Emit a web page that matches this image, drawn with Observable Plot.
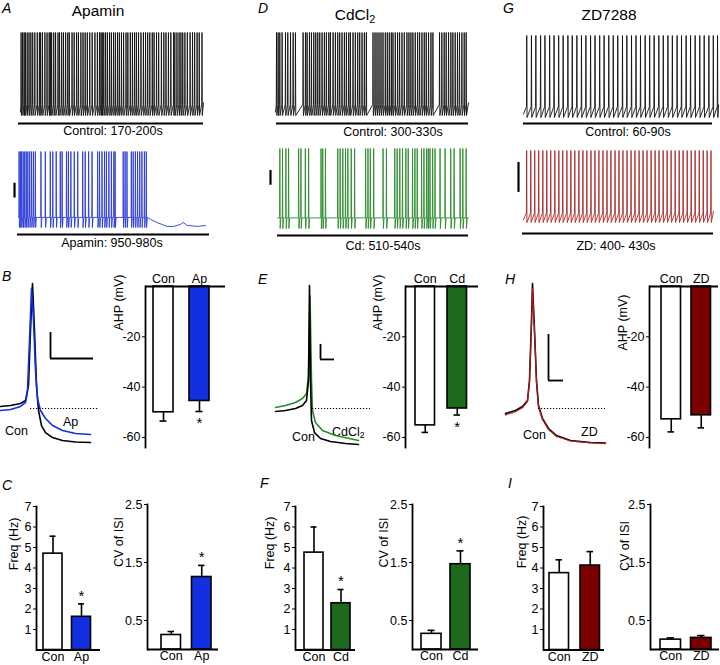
<!DOCTYPE html>
<html><head><meta charset="utf-8">
<script src="https://cdn.jsdelivr.net/npm/d3@7"></script>
<script src="https://cdn.jsdelivr.net/npm/@observablehq/plot@0.6"></script>
<style>
body{margin:0;background:#fff;}
#fig{position:relative;width:720px;height:665px;overflow:hidden;font-family:"Liberation Sans",Arial,sans-serif;color:#000;background:#fff;}
#fig svg{position:absolute;overflow:visible;background:transparent;}
.t{position:absolute;white-space:nowrap;line-height:1;}
</style></head><body><div id="fig"></div>
<script>
// ---------------- DATA ----------------
// spike times (s) within each 30 s sweep
const spikesAControl = [0.1,0.35,0.6,0.8,1.1,1.4,1.7,2.0,2.35,2.75,3.1,3.3,3.6,4.0,4.35,4.7,4.9,5.1,5.45,5.75,6.15,6.4,6.75,7.05,7.4,7.75,8.0,8.45,8.8,9.2,9.5,9.9,10.25,10.6,10.95,11.35,11.75,12.2,12.6,12.95,13.2,13.4,13.65,13.95,14.25,14.6,14.9,15.25,15.55,15.9,16.2,16.55,16.9,17.3,17.6,18.0,18.35,18.7,19.0,19.35,19.75,20.15,20.5,20.85,21.2,21.6,21.9,22.3,22.65,23.1,23.5,23.85,24.25,24.65,25.1,25.3,25.65,26.0,26.3,26.6,26.95,27.35,27.8,28.2,28.55,28.95,29.3,29.75];
const spikesApamin = [0.1,0.3,0.5,0.75,1.0,1.25,1.5,1.8,2.1,2.4,2.7,3.6,4.3,5.1,5.5,6.05,6.7,7.0,7.7,8.0,8.4,8.95,9.5,10.3,10.7,11.25,11.8,12.7,13.0,13.4,13.8,14.1,14.5,14.9,15.3,15.5,16.8,17.1,17.4,18.1,18.4,18.75,19.1,19.45,19.8,20.2,20.5];
const apaminTail = [[21.2,-57.6],[22.2,-61.5],[23.8,-66.6],[24.9,-66.6],[26.0,-64],[26.4,-61.5],[27.1,-65.4],[28.7,-66.6],[30,-65.4]];
const spikesDControl = [0.16,0.41,0.67,1.03,1.55,1.91,2.33,2.74,3.10,4.29,4.66,4.91,5.28,5.59,5.95,6.26,6.57,6.88,7.24,7.60,7.91,8.28,8.53,8.95,9.31,9.67,9.98,10.34,10.71,11.02,11.38,11.64,12.05,12.41,12.78,13.09,13.45,13.81,14.12,15.16,15.47,15.78,16.09,16.40,16.71,17.07,17.38,17.69,18.00,18.26,18.62,18.98,19.29,19.66,20.02,20.43,20.74,21.05,21.36,21.72,22.09,22.40,22.76,23.12,23.43,23.79,24.16,24.47,25.50,25.86,26.22,26.53,26.90,27.26,27.57,27.93,28.29,28.60,28.97,29.33,29.64];
const spikesCd = [0.37,0.79,1.32,1.74,3.32,3.68,4.37,4.89,6.84,7.11,7.53,9.47,9.84,10.26,10.68,11.05,11.58,12.11,13.84,14.21,14.58,15.11,16.58,17.11,18.42,18.79,19.21,19.63,20.16,20.53,21.21,21.58,21.95,22.63,23.0,23.42,23.68,23.95,24.37,24.74,25.53,26.32,27.21,27.74,28.68,29.11,29.63];
const spikesGControl = [0.5,1.22,1.9,2.63,3.3,4.02,4.7,5.41,6.1,6.83,7.5,8.21,8.92,9.6,10.32,11.0,11.72,12.4,13.12,13.81,14.5,15.23,15.9,16.62,17.31,18.0,18.72,19.41,20.1,20.82,21.5,22.22,22.9,23.63,24.31,25.02,25.7,26.41,27.12,27.8,28.52,29.2,29.85];
const spikesZD = [0.5,1.15,1.77,2.4,3.05,3.68,4.3,4.95,5.58,6.2,6.85,7.48,8.1,8.75,9.38,10.0,10.65,11.28,11.9,12.55,13.18,13.8,14.45,15.08,15.7,16.35,16.98,17.6,18.25,18.88,19.5,20.15,20.78,21.4,22.05,22.68,23.3,23.95,24.58,25.2,25.85,26.48,27.1,27.75,28.38,29.0,29.6];
const levels = {peak: 30, thr: -55, base: -55, trough: -68};   // mV
const traceBars = {A: [-30, -11], D: [-15, 3], G: [-27, 13.7]}; // mV scale bars

// single action potentials [ms, mV]
const apBCon = [[0,-48.7],[2.5,-48.1],[5,-46.8],[6.25,-44.9],[7,-35.3],[7.5,-0.1],[8,30],[8.5,0],[9,-35.3],[9.5,-51.3],[10.25,-60.9],[11.25,-65.4],[13,-68.6],[15.5,-70.5],[18.75,-71.4],[22.5,-71.8]];
const apBAp  = [[0,-51.3],[2.5,-50.6],[5,-48.7],[6.25,-46.2],[6.75,-38.5],[7.25,-6.5],[7.75,26.8],[8.25,6.3],[8.75,-25.7],[9.25,-43.6],[10,-51.3],[11.25,-56.4],[13,-60.9],[15.5,-64.1],[18.75,-66],[22.5,-66.6]];
const apECon = [[0,-51.9],[2.5,-51.3],[5,-50],[6.75,-48.1],[7.75,-44.9],[8.25,-32.1],[8.5,28.7],[8.75,-32.1],[9,-57.7],[9.75,-65.4],[11.25,-69.2],[13.75,-71.1],[17.5,-72.4],[20.75,-73]];
const apECd  = [[0,-49.4],[2.5,-48.1],[5,-46.2],[6.75,-43.6],[7.75,-40.4],[8.25,-28.9],[8.625,22.3],[9,-32.1],[9.25,-51.3],[10,-59],[11.75,-64.1],[15,-67.3],[20.75,-70.5]];
const apHCon = [[0,-53.2],[2.5,-51.3],[4.25,-48.7],[5.5,-44.9],[6,-32.1],[6.5,6.3],[6.75,30],[7.25,0],[7.75,-32.1],[8.25,-48.1],[9.25,-56.4],[10.75,-62.8],[12.75,-67.3],[16.25,-70.5],[21.25,-71.8],[25,-72.1]];
const apHZD  = [[0,-54],[2.5,-52],[4.25,-49.5],[5.5,-45.5],[6,-33],[6.5,4],[6.75,27],[7.25,-1],[7.75,-33],[8.25,-49],[9.25,-57],[10.75,-63.5],[12.75,-67.8],[16.25,-70.8],[21.25,-72],[25,-72.5]];
const apRef = -50; // dotted reference level, mV
const apBars = {B: {t: 12.5, t2: 23.25, v1: -18, v2: -1.4}, E: {t: 11.25, t2: 14.75, v1: -18.6, v2: -9}, H: {t: 10.75, t2: 14.5, v1: -32.1, v2: -2.6}};

// bar summaries
const groupsAp = ["Con", "Ap"], groupsCd = ["Con", "Cd"], groupsZD = ["Con", "ZD"];
const ahpAp = [-50, -45.5], ahpApErr = [3.5, 4.2], ahpApSig = [false, true];
const ahpCd = [-55.2, -48.5], ahpCdErr = [2.8, 2.6], ahpCdSig = [false, true];
const ahpZD = [-52.8, -51.2], ahpZDErr = [5, 5], ahpZDSig = [false, false];
const freqAp = [4.7, 1.62], freqApErr = [0.85, 0.63], freqApSig = [false, true];
const cvAp = [0.25, 1.25], cvApErr = [0.06, 0.2], cvApSig = [false, true];
const freqCd = [4.75, 2.28], freqCdErr = [1.25, 0.67], freqCdSig = [false, true];
const cvCd = [0.27, 1.47], cvCdErr = [0.06, 0.23], cvCdSig = [false, true];
const freqZD = [3.75, 4.12], freqZDErr = [0.65, 0.68], freqZDSig = [false, false];
const cvZD = [0.17, 0.2], cvZDErr = [0.03, 0.04], cvZDSig = [false, false];
const ahpTicks = [-20, -40, -60], freqTicks = [1, 2, 3, 4, 5, 6, 7], cvTicks = [0.5, 1.5, 2.5];

// colours
const BLUE = "#1230e0", GREEN = "#1d6a1d", DRED = "#7c0000";
const BLUE_T = "#2a3ad8", GREEN_T = "#2b8a2b", RED_T = "#a82828";

// ---------------- HELPERS ----------------
const fig = document.getElementById("fig");
const FONT = '"Liberation Sans", Arial, sans-serif';
function place(svg, left, top) { svg.style.left = left + "px"; svg.style.top = top + "px"; fig.appendChild(svg); }
function label(html, x, baseline, size, opts = {}) {
  const d = document.createElement("div");
  d.className = "t"; d.innerHTML = html;
  d.style.fontSize = size + "px";
  d.style.top = (baseline - 0.847 * size) + "px";
  d.style.left = x + "px";
  if (opts.italic) d.style.fontStyle = "italic";
  if (opts.anchor === "middle") d.style.transform = "translateX(-50%)";
  fig.appendChild(d);
}

function trainPoints(times, ramp, tail) {
  const lv = levels, pts = [{t: 0, v: ramp ? lv.trough + 4 : lv.base}];
  for (const t of times) {
    pts.push({t: t - 0.04, v: ramp ? lv.thr : lv.base});
    pts.push({t, v: lv.peak});
    pts.push({t: t + 0.05, v: lv.trough});
    if (!ramp) pts.push({t: t + 0.16, v: lv.base});
  }
  if (tail) for (const [t, v] of tail) pts.push({t, v});
  else pts.push({t: 30, v: ramp ? lv.thr + 2 : lv.base});
  return pts;
}

function trace(c) {
  const k = (c.troughY - c.peakY) / (levels.peak - levels.trough);
  const vLine = levels.peak - (c.lineY - c.peakY) / k;
  const marks = [
    Plot.line(trainPoints(c.spikes, c.ramp, c.tail), {x: "t", y: "v", stroke: c.color, strokeWidth: 0.9}),
    Plot.ruleY([vLine], {strokeWidth: 2})
  ];
  if (c.bar) marks.push(Plot.ruleX([c.bar], {x: "t", y1: "v1", y2: "v2", strokeWidth: 2.2}));
  const svg = Plot.plot({
    width: c.width, height: c.height,
    marginLeft: c.ul0 - c.left, marginRight: c.left + c.width - c.ul1, marginTop: 0, marginBottom: c.top + c.height - c.lineY,
    x: {domain: [0, 30], range: [c.x0 - c.left, c.x1 - c.left], axis: null},
    y: {domain: [vLine, levels.peak], range: [c.lineY - c.top, c.peakY - c.top], axis: null},
    style: {fontFamily: FONT, background: "transparent", overflow: "visible"},
    marks
  });
  place(svg, c.left, c.top);
}

function apPanel(c) {
  const y0 = c.peakY - c.top; // local y of +30 mV
  const marks = [];
  for (const s of c.series) marks.push(Plot.line(s.data, {x: d => d[0], y: d => d[1], stroke: s.color, strokeWidth: s.w || 1.6, strokeDasharray: s.dash}));
  marks.push(Plot.ruleY([apRef], {x1: c.ref[0], x2: c.ref[1], strokeWidth: 1, strokeDasharray: "1.2,1.8"}));
  marks.push(Plot.ruleX([c.bar], {x: "t", y1: "v1", y2: "v2", strokeWidth: 1.8}));
  marks.push(Plot.ruleY([c.bar], {y: "v1", x1: "t", x2: "t2", strokeWidth: 1.8}));
  const svg = Plot.plot({
    width: c.width, height: c.height, margin: 0,
    x: {domain: [0, 25], range: [c.x0 - c.left, c.x0 - c.left + 100], axis: null},
    y: {domain: [-70, 30], range: [y0 + 156.25, y0], axis: null},
    style: {fontFamily: FONT, background: "transparent", overflow: "visible"},
    marks
  });
  place(svg, c.left, c.top);
}

function barChart(c) {
  const n = c.groups.length;
  const ml = c.axisX - c.left, mr = c.left + c.width - c.frameRight;
  const mt = c.yTop - c.top, mb = c.top + c.height - c.yBot;
  const pi = (c.step - c.bw) / c.step, po = (c.firstLeft - c.axisX) / c.step;
  const data = c.groups.map((g, i) => ({g, v: c.values[i], e: c.errs[i], s: c.sig[i], fill: i === 0 ? "white" : c.color}));
  const dir = c.dir;
  const svg = Plot.plot({
    width: c.width, height: c.height, marginLeft: ml, marginRight: mr, marginTop: mt, marginBottom: mb,
    x: {type: "band", domain: c.groups, range: [ml, ml + c.step * (n - pi + 2 * po)], paddingInner: pi, paddingOuter: po, round: false},
    y: {domain: c.yDomain},
    style: {fontFamily: FONT, fontSize: "12px", background: "transparent", overflow: "visible", color: "black"},
    marks: [
      Plot.ruleX(data, {x: "g", y1: "v", y2: d => d.v + dir * d.e, strokeWidth: 1.6}),
      Plot.tickY(data, {x: "g", y: d => d.v + dir * d.e, insetLeft: 6.5, insetRight: 6.5, strokeWidth: 1.6}),
      Plot.barY(data, {x: "g", y1: 0, y2: "v", fill: "fill", stroke: "black", strokeWidth: 1.6}),
      Plot.text(data.filter(d => d.s), {x: "g", y: d => d.v + dir * d.e, text: () => "*", fontSize: 15, dy: dir > 0 ? -8 : 12}),
      Plot.ruleY([0], {strokeWidth: 1.8}),
      Plot.frame({anchor: "left", strokeWidth: 1.8}),
      Plot.axisY({ticks: c.ticks, tickSize: 3, tickPadding: 2, tickFormat: d => String(d), fontSize: 12.5, label: null}),
      Plot.axisX({anchor: c.xTop ? "top" : "bottom", tickSize: 0, tickPadding: c.xTop ? 4 : 2, fontSize: 12.5, label: null}),
      Plot.text([c.label], {frameAnchor: "left", rotate: -90, dx: c.ldx, dy: c.ldy, fontSize: 12.5})
    ]
  });
  place(svg, c.left, c.top);
}

// ---------------- TEXT ----------------
label("A", 2, 13.3, 14, {italic: true});
label("D", 258, 13.3, 14, {italic: true});
label("G", 503, 13.3, 14, {italic: true});
label("B", 2, 281, 14, {italic: true});
label("E", 258, 283.5, 14, {italic: true});
label("H", 505, 284, 14, {italic: true});
label("C", 2, 490, 14, {italic: true});
label("F", 260, 487.5, 14, {italic: true});
label("I", 508, 487.5, 14, {italic: true});
label("Apamin", 98, 16.5, 15.5, {anchor: "middle"});
label("CdCl<sub style='font-size:0.7em;vertical-align:-0.25em'>2</sub>", 355, 20, 15.5, {anchor: "middle"});
label("ZD7288", 609, 20, 15.5, {anchor: "middle"});
label("Control: 170-200s", 113, 136, 12.5, {anchor: "middle"});
label("Apamin: 950-980s", 112, 248, 12.5, {anchor: "middle"});
label("Control: 300-330s", 393, 136.5, 12.5, {anchor: "middle"});
label("Cd: 510-540s", 383, 251, 12.5, {anchor: "middle"});
label("Control: 60-90s", 628, 136.5, 12.5, {anchor: "middle"});
label("ZD: 400- 430s", 616, 251, 12.5, {anchor: "middle"});
label("Con", 5, 436, 12.5);
label("Ap", 63, 426.5, 12.5);
label("Con", 292, 441.5, 12.5);
label("CdCl<sub style='font-size:0.7em;vertical-align:-0.25em'>2</sub>", 332, 437, 12.5);
label("Con", 523, 439.5, 12.5);
label("ZD", 581, 436.5, 12.5);

// ---------------- TRACES ----------------
trace({left: 10, top: 25, width: 200, height: 105, x0: 20, x1: 203, ul0: 18, ul1: 203, lineY: 123, peakY: 32, troughY: 115, spikes: spikesAControl, ramp: true, color: "#111"});
trace({left: 5, top: 140, width: 210, height: 100, x0: 18, x1: 205, ul0: 17, ul1: 209, lineY: 234, peakY: 151, troughY: 227, spikes: spikesApamin, ramp: false, tail: apaminTail, color: BLUE_T, bar: {t: -0.64, v1: traceBars.A[0], v2: traceBars.A[1]}});
trace({left: 265, top: 25, width: 210, height: 105, x0: 275, x1: 468, ul0: 276, ul1: 468, lineY: 123, peakY: 32, troughY: 115, spikes: spikesDControl, ramp: true, color: "#111"});
trace({left: 262, top: 140, width: 210, height: 100, x0: 277, x1: 468, ul0: 277, ul1: 468, lineY: 235, peakY: 148, troughY: 228, spikes: spikesCd, ramp: false, color: GREEN_T, bar: {t: -1.1, v1: traceBars.D[0], v2: traceBars.D[1]}});
trace({left: 515, top: 25, width: 205, height: 105, x0: 523, x1: 718, ul0: 523, ul1: 712, lineY: 123, peakY: 35, troughY: 117, spikes: spikesGControl, ramp: true, color: "#111"});
trace({left: 512, top: 140, width: 208, height: 100, x0: 523, x1: 713, ul0: 522, ul1: 713, lineY: 233, peakY: 150, troughY: 222, spikes: spikesZD, ramp: true, color: RED_T, bar: {t: -0.79, v1: traceBars.G[0], v2: traceBars.G[1]}});

// ---------------- ACTION POTENTIALS ----------------
apPanel({left: 0, top: 270, width: 100, height: 180, x0: 0, peakY: 283, ref: [7.5, 24.5], bar: apBars.B,
  series: [{data: apBCon, color: "#000"}, {data: apBAp, color: BLUE}]});
apPanel({left: 265, top: 270, width: 110, height: 180, x0: 275, peakY: 283, ref: [9.25, 23.75], bar: apBars.E,
  series: [{data: apECd, color: GREEN_T}, {data: apECon, color: "#000"}]});
apPanel({left: 495, top: 270, width: 115, height: 180, x0: 505, peakY: 283, ref: [8.25, 25], bar: apBars.H,
  series: [{data: apHCon, color: "#000"}, {data: apHZD, color: "#b02020", dash: "1.5,1.5", w: 1.4}]});

// ---------------- BAR CHARTS ----------------
const ahpCommon = {top: 262, height: 190, yTop: 286, yBot: 447, yDomain: [-64, 0], ticks: ahpTicks, xTop: true, dir: -1, label: "AHP (mV)"};
barChart({...ahpCommon, left: 95, width: 135, axisX: 145, frameRight: 225, firstLeft: 153, step: 36, bw: 20, groups: groupsAp, values: ahpAp, errs: ahpApErr, sig: ahpApSig, color: BLUE, ldx: -27, ldy: -36.5});
barChart({...ahpCommon, left: 345, width: 135, axisX: 405, frameRight: 478, firstLeft: 415, step: 32, bw: 19.5, groups: groupsCd, values: ahpCd, errs: ahpCdErr, sig: ahpCdSig, color: GREEN, ldx: -28, ldy: -36.5});
barChart({...ahpCommon, left: 590, width: 130, axisX: 649, frameRight: 718, firstLeft: 661, step: 30, bw: 19.5, groups: groupsZD, values: ahpZD, errs: ahpZDErr, sig: ahpZDSig, color: DRED, ldx: -27, ldy: -16.5});

const freqCommon = {top: 495, height: 170, yTop: 506, yBot: 649.5, yDomain: [0, 7], ticks: freqTicks, xTop: false, dir: 1, label: "Freq (Hz)"};
const cvCommon = {top: 495, height: 170, yTop: 504, yBot: 649, yDomain: [0, 2.5], ticks: cvTicks, xTop: false, dir: 1, label: "CV of ISI"};
barChart({...freqCommon, left: 0, width: 105, axisX: 36, frameRight: 100, firstLeft: 43, step: 28.5, bw: 19, groups: groupsAp, values: freqAp, errs: freqApErr, sig: freqApSig, color: BLUE, ldx: -23, ldy: -8});
barChart({...cvCommon, left: 100, width: 125, axisX: 147, frameRight: 218, firstLeft: 161, step: 30.5, bw: 19.5, groups: groupsAp, values: cvAp, errs: cvApErr, sig: cvApSig, color: BLUE, ldx: -29, ldy: -10});
barChart({...freqCommon, left: 255, width: 105, axisX: 295, frameRight: 355, firstLeft: 304, step: 27, bw: 19, groups: groupsCd, values: freqCd, errs: freqCdErr, sig: freqCdSig, color: GREEN, ldx: -26, ldy: -9});
barChart({...cvCommon, left: 365, width: 115, axisX: 412, frameRight: 478, firstLeft: 421, step: 29, bw: 20, groups: groupsCd, values: cvCd, errs: cvCdErr, sig: cvCdSig, color: GREEN, ldx: -29, ldy: -9.5});
barChart({...freqCommon, left: 500, width: 110, axisX: 543, frameRight: 604, firstLeft: 549, step: 31, bw: 19.5, groups: groupsZD, values: freqZD, errs: freqZDErr, sig: freqZDSig, color: DRED, ldx: -22, ldy: -10});
barChart({...cvCommon, left: 605, width: 115, axisX: 650, frameRight: 719, firstLeft: 660, step: 30.5, bw: 20.5, groups: groupsZD, values: cvZD, errs: cvZDErr, sig: cvZDSig, color: DRED, ldx: -26, ldy: -6});
</script></body></html>
